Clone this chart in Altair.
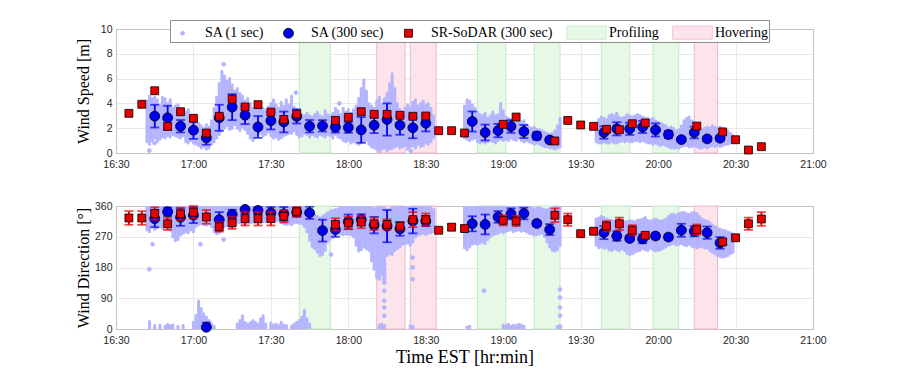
import altair as alt
import pandas as pd

# ---------------- data ----------------
SERIES = ["SA (1 sec)", "SA (300 sec)", "SR-SoDAR (300 sec)", "Profiling", "Hovering"]

# shaded periods
PROF_START = ["17:41", "18:50", "19:12", "19:38", "19:58"]
PROF_END = ["17:53", "19:01", "19:22", "19:49", "20:08"]
HOV_START = ["18:11", "18:24", "20:14"]
HOV_END = ["18:22", "18:34", "20:23"]

# SR-SoDAR 300 s
SODAR_TIMES = ["16:35", "16:40", "16:45", "16:50", "16:55", "17:00", "17:05", "17:10", "17:15", "17:20",
               "17:25", "17:30", "17:35", "17:40", "17:55", "18:00", "18:05", "18:10", "18:15", "18:20",
               "18:25", "18:30", "18:35", "18:40", "18:45", "19:00", "19:05", "19:20", "19:25", "19:30",
               "19:35", "19:40", "19:45", "19:50", "19:55", "20:15", "20:25", "20:30", "20:35", "20:40"]
SODAR_SPEED = [3.2, 3.93, 5.02, 2.15, 3.33, 2.8, 1.61, 2.96, 4.33, 3.71,
               3.9, 3.3, 2.71, 3.14, 2.63, 2.88, 3.33, 3.12, 3.12, 3.04,
               2.96, 2.98, 1.8, 1.8, 1.61, 2.31, 2.9, 0.97, 2.63, 2.26,
               2.15, 1.91, 1.88, 2.36, 2.42, 2.17, 1.7, 1.07, 0.24, 0.51]
SODAR_DIR = [325, 325, 338, 308, 337, 342, 328, 299, 311, 323,
             323, 323, 330, 343, 306, 310, 313, 308, 306, 301,
             320, 320, 289, 298, 294, 318, 316, 333, 320, 279,
             286, 301, 308, 289, 274, 291, 255, 267, 308, 322]
SODAR_DIR_ERR = [20, 20, 18, 18, 18, 18, 20, 14, 18, 20,
                 20, 20, 18, 14, 18, 18, 18, 18, 15, 12,
                 22, 18, 5, 8, 8, 15, 15, 20, 18, 5,
                 8, 15, 18, 15, 8, 15, 8, 5, 18, 20]

# SA 300 s
SA_TIMES = ["16:45", "16:50", "16:55", "17:00", "17:05", "17:10", "17:15", "17:20", "17:25", "17:30",
            "17:35", "17:40", "17:45", "17:50", "17:55", "18:00", "18:05", "18:10", "18:15", "18:20",
            "18:25", "18:30", "18:48", "18:53", "18:58", "19:03", "19:08", "19:13", "19:18", "19:39",
            "19:44", "19:49", "19:54", "19:59", "20:04", "20:09", "20:14", "20:19", "20:24"]
SA_SPEED = [2.97, 2.84, 2.16, 1.84, 1.22, 2.84, 3.7, 3.05, 2.1, 2.6,
            2.5, 2.95, 2.16, 2.19, 2.08, 2.06, 1.86, 2.24, 2.7, 2.24,
            2.03, 2.4, 2.54, 1.65, 1.81, 2.14, 1.73, 1.38, 1.05, 1.65,
            1.95, 1.95, 2.1, 1.86, 1.49, 1.08, 1.65, 1.14, 1.19]
SA_SPEED_ERR = [0.92, 0.97, 0.5, 0.7, 0.55, 1.05, 1.05, 0.72, 0.88, 0.7,
                0.84, 0.57, 0.5, 0.46, 0.43, 0.43, 1.04, 0.63, 1.3, 0.77,
                0.84, 0.66, 0.81, 0.64, 0.54, 0.51, 0.53, 0.3, 0.2, 0.5,
                0.53, 0.49, 0.49, 0.53, 0.3, 0.2, 0.47, 0.2, 0.2]
SA_DIR = [323, 343, 327, 333, 5, 320, 335, 350, 347, 340,
          337, 342, 340, 288, 291, 314, 320, 304, 301, 293,
          316, 316, 308, 306, 328, 337, 338, 309, 291, 282,
          272, 265, 264, 272, 269, 289, 286, 282, 252]
SA_DIR_ERR = [25, 12, 25, 23, 14, 22, 14, 13, 12, 17,
              20, 13, 18, 32, 21, 21, 16, 24, 47, 20,
              36, 15, 22, 29, 17, 16, 17, 8, 16, 19,
              14, 8, 13, 8, 8, 19, 15, 18, 17]

# SA 1 s cloud: per-minute envelope (minutes after 16:30) for three recording segments
SEG_START = [12, 135, 186]
SPD_LOW = [
    [0.9, 0.7, 1.0, 1.2, 0.9, 1.1, 1.3, 1.2, 1.4, 1.3,
     1.5, 1.4, 1.3, 1.2, 1.4, 0.9, 0.8, 1.0, 0.8, 0.7,
     0.6, 0.4, 0.5, 0.3, 0.4, 0.7, 0.9, 1.2, 1.5, 1.8,
     2.0, 2.2, 1.9, 2.0, 2.3, 2.0, 1.8, 2.1, 1.9, 1.6,
     1.2, 1.0, 1.3, 1.5, 1.6, 1.4, 1.5, 1.7, 1.4, 1.2,
     1.3, 1.1, 1.2, 1.4, 1.5, 1.6, 1.6, 1.8, 1.5, 1.3,
     1.4, 1.6, 1.5, 1.3, 1.5, 1.4, 1.3, 1.5, 1.4, 1.3,
     1.5, 1.4, 1.2, 1.5, 1.3, 1.2, 1.0, 0.9, 1.0, 0.8,
     0.9, 0.8, 0.7, 0.8, 0.9, 1.0, 0.7, 0.5, 0.4, 0.3,
     0.1, 0.3, 0.4, 0.2, 0.3, 0.4, 0.5, 0.6, 0.4, 0.5,
     0.6, 0.3, 0.5, 0.6, 0.4, 0.7, 0.5, 0.6, 0.8, 0.7,
     0.9, 1.2],
    [1.2, 1.1, 1.0, 1.1, 1.2, 0.9, 0.8, 0.9, 0.8, 0.9,
     1.0, 0.9, 0.8, 1.0, 1.1, 1.0, 1.1, 1.0, 1.2, 1.1,
     1.0, 1.2, 1.0, 0.9, 1.0, 0.9, 0.8, 0.7, 0.8, 0.7,
     0.6, 0.5, 0.5, 0.4, 0.4, 0.3, 0.4, 0.5],
    [0.9, 0.8, 0.8, 0.9, 0.8, 0.8, 0.9, 0.8, 0.8, 0.9,
     1.0, 0.9, 1.0, 0.9, 0.9, 1.0, 1.0, 0.9, 1.0, 0.9,
     0.8, 0.8, 0.7, 0.8, 0.7, 0.6, 0.7, 0.6, 0.5, 0.4,
     0.4, 0.4, 0.4, 0.5, 0.6, 0.6, 0.5, 0.5, 0.6, 0.5,
     0.4, 0.4, 0.5, 0.4, 0.5, 0.6, 0.5, 0.6, 0.5, 0.6,
     0.7, 0.7, 0.8, 0.9],
]
SPD_HIGH = [
    [4.2, 4.6, 4.4, 4.5, 4.3, 3.9, 4.5, 4.4, 4.0, 4.3,
     3.6, 3.8, 3.9, 3.5, 3.2, 3.3, 3.5, 3.0, 2.8, 2.6,
     2.4, 2.2, 2.0, 2.3, 2.1, 2.6, 3.6, 4.5, 5.6, 6.6,
     6.2, 5.8, 6.0, 5.5, 5.0, 5.2, 4.8, 4.6, 4.2, 4.4,
     4.0, 3.6, 3.8, 3.5, 3.9, 3.6, 3.4, 3.7, 4.0, 4.3,
     3.9, 3.6, 4.1, 3.8, 4.3, 3.9, 4.6, 3.7, 3.5, 3.4,
     3.1, 3.0, 3.2, 3.0, 2.9, 3.1, 3.3, 3.0, 2.9, 3.4,
     3.1, 3.0, 3.2, 3.6, 3.4, 3.1, 3.6, 3.3, 3.5, 3.2,
     3.5, 3.8, 4.4, 5.2, 5.9, 5.0, 4.0, 3.8, 3.6, 4.2,
     4.5, 3.9, 4.4, 4.8, 5.6, 6.4, 5.2, 4.0, 3.5, 3.3,
     3.6, 3.9, 3.7, 4.1, 4.3, 3.8, 4.0, 4.2, 3.9, 4.0,
     3.6, 3.0],
    [3.8, 4.3, 4.2, 3.9, 3.6, 3.3, 3.1, 3.0, 3.2, 2.8,
     3.0, 3.3, 3.0, 3.1, 4.0, 3.4, 2.9, 2.8, 2.7, 2.9,
     2.6, 2.7, 2.5, 2.6, 2.3, 2.1, 2.0, 2.1, 1.9, 1.9,
     1.8, 1.7, 1.6, 1.5, 1.6, 1.8, 2.2, 2.8],
    [2.4, 2.7, 2.9, 2.8, 2.7, 3.0, 3.1, 3.0, 3.2, 2.9,
     2.8, 2.9, 3.1, 3.0, 2.9, 3.0, 3.1, 3.0, 2.9, 2.8,
     2.8, 2.7, 2.8, 2.6, 2.5, 2.4, 2.3, 2.2, 2.0, 2.1,
     2.0, 1.8, 1.9, 2.2, 2.6, 2.8, 2.9, 2.6, 2.5, 2.2,
     2.0, 1.9, 2.0, 2.1, 2.0, 2.2, 2.1, 2.0, 2.1, 2.0,
     1.9, 1.8, 1.6, 1.4],
]
DIR_LOW = [
    [290, 285, 300, 292, 296, 300, 295, 298, 300, 290,
     270, 258, 262, 275, 280, 284, 282, 290, 285, 300,
     305, 308, 306, 304, 308, 300, 285, 278, 282, 296,
     300, 302, 298, 305, 300, 310, 312, 308, 311, 312,
     310, 313, 312, 314, 312, 315, 314, 316, 318, 315,
     316, 318, 312, 308, 306, 309, 305, 310, 312, 310,
     308, 300, 285, 260, 240, 235, 225, 215, 218, 230,
     255, 262, 268, 275, 280, 278, 276, 278, 277, 276,
     270, 245, 228, 232, 240, 235, 230, 200, 175, 150,
     145, 160, 165, 215, 220, 218, 230, 235, 240, 248,
     250, 252, 245, 255, 270, 275, 278, 280, 276, 280,
     282, 285],
    [238, 232, 240, 248, 250, 248, 252, 255, 250, 262,
     270, 275, 278, 280, 285, 282, 286, 288, 290, 285,
     288, 290, 286, 288, 284, 280, 278, 275, 276, 278,
     280, 270, 255, 240, 230, 228, 232, 245],
    [245, 238, 240, 236, 238, 232, 230, 235, 232, 228,
     235, 230, 222, 218, 220, 225, 228, 230, 235, 232,
     230, 236, 232, 228, 230, 232, 236, 240, 245, 248,
     250, 246, 248, 250, 246, 244, 248, 242, 240, 238,
     240, 242, 236, 238, 230, 225, 220, 215, 212, 210,
     212, 215, 220, 225],
]
DIR_HIGH = [
    [360, 358, 360, 360, 360, 358, 360, 360, 360, 360,
     360, 358, 360, 360, 360, 360, 360, 360, 360, 360,
     360, 360, 360, 360, 360, 355, 355, 358, 360, 360,
     360, 360, 360, 360, 360, 360, 360, 360, 360, 360,
     360, 360, 360, 360, 360, 360, 360, 360, 360, 360,
     360, 360, 360, 360, 360, 360, 360, 360, 360, 360,
     358, 355, 352, 350, 345, 335, 330, 325, 330, 335,
     340, 345, 348, 350, 352, 355, 358, 360, 360, 360,
     360, 360, 360, 360, 360, 358, 355, 355, 352, 355,
     358, 355, 355, 350, 352, 358, 360, 360, 358, 360,
     360, 360, 360, 358, 360, 360, 360, 358, 360, 360,
     355, 350],
    [360, 360, 360, 360, 360, 360, 360, 360, 360, 360,
     360, 360, 360, 360, 360, 360, 360, 360, 360, 360,
     360, 360, 360, 358, 356, 355, 354, 352, 355, 356,
     352, 350, 350, 352, 355, 356, 358, 360],
    [322, 325, 330, 326, 322, 320, 318, 316, 318, 320,
     316, 314, 315, 318, 316, 314, 318, 320, 322, 326,
     318, 316, 320, 322, 318, 316, 318, 322, 330, 335,
     336, 334, 338, 340, 342, 338, 336, 340, 342, 338,
     330, 322, 318, 316, 312, 305, 300, 296, 292, 290,
     288, 285, 282, 278],
]
# wrapped-around directions near 0 deg (minute, upper edge)
ZERO_T = [13, 15, 17, 19, 20, 21, 22, 24, 26, 30, 31, 32, 33, 34, 35, 36, 37, 38,
          47, 48, 49, 50, 51, 52, 53, 54, 55, 56, 57, 58, 60, 61, 62, 63, 64, 65, 66,
          68, 69, 70, 71, 72, 73, 74, 75, 102, 103, 104, 114, 115, 136, 137,
          150, 151, 152, 153, 154, 155, 156, 157, 158, 171, 172]
ZERO_HIGH = [22, 10, 12, 8, 14, 10, 12, 8, 10, 20, 40, 82, 60, 45, 35, 25, 15, 8,
             15, 25, 39, 20, 15, 18, 25, 20, 15, 30, 39, 15, 18, 12, 15, 10, 20, 12, 10,
             8, 15, 20, 25, 35, 55, 30, 15, 12, 15, 10, 10, 8, 6, 8,
             12, 10, 14, 8, 12, 10, 14, 12, 8, 8, 10]
# isolated 1 s samples
SPD_OUT_T = [12.9, 14.9, 41.7, 69.7, 86.5, 114.2]
SPD_OUT_V = [0.19, 0.8, 7.16, 4.86, 4.0, 0.14]
DIR_OUT_T = [12.9, 14.2, 32.7, 41.7, 83.3, 142.6,
             103.9, 103.9, 103.9, 103.9, 103.9, 103.9, 103.9, 103.9, 103.9, 103.9,
             114.9, 114.9, 114.9, 172.0, 172.0, 172.0, 172.0, 172.0]
DIR_OUT_V = [175, 248, 248, 262, 218, 112,
             189, 175, 165, 155, 146, 136, 112, 83, 63, 39,
             209, 180, 146, 116, 92, 63, 39, 7]

X_TICKS = list(range(0, 271, 30))
SPD_TICKS = [0, 2, 4, 6, 8, 10]
DIR_TICKS = [0, 90, 180, 270, 360]

# ---------------- helpers ----------------
def tmin(s):
    h, m = s.split(":")
    return int(h) * 60 + int(m) - 990


bands = pd.DataFrame(
    [{"t0": tmin(a), "t1": tmin(b), "series": "Profiling"} for a, b in zip(PROF_START, PROF_END)]
    + [{"t0": tmin(a), "t1": tmin(b), "series": "Hovering"} for a, b in zip(HOV_START, HOV_END)]
)

rows_s, rows_d = [], []
for k, st in enumerate(SEG_START):
    for i in range(len(SPD_LOW[k])):
        rows_s.append({"t": st + i, "lo": SPD_LOW[k][i], "hi": SPD_HIGH[k][i]})
    for i in range(len(DIR_LOW[k])):
        rows_d.append({"t": st + i, "lo": DIR_LOW[k][i], "hi": DIR_HIGH[k][i]})
for t, h in zip(ZERO_T, ZERO_HIGH):
    rows_d.append({"t": t, "lo": 0, "hi": h})
cloud_s = pd.DataFrame(rows_s)
cloud_d = pd.DataFrame(rows_d)

out_s = pd.DataFrame({"t": SPD_OUT_T, "v": SPD_OUT_V, "series": "SA (1 sec)"})
out_d = pd.DataFrame({"t": DIR_OUT_T, "v": DIR_OUT_V, "series": "SA (1 sec)"})

sa = pd.DataFrame({
    "t": [tmin(s) for s in SA_TIMES],
    "spd": SA_SPEED, "spd_lo": [v - e for v, e in zip(SA_SPEED, SA_SPEED_ERR)],
    "spd_hi": [v + e for v, e in zip(SA_SPEED, SA_SPEED_ERR)],
    "dir": SA_DIR, "dir_lo": [v - e for v, e in zip(SA_DIR, SA_DIR_ERR)],
    "dir_hi": [v + e for v, e in zip(SA_DIR, SA_DIR_ERR)],
    "series": "SA (300 sec)",
})
sod = pd.DataFrame({
    "t": [tmin(s) for s in SODAR_TIMES],
    "spd": SODAR_SPEED, "dir": SODAR_DIR,
    "dir_lo": [v - e for v, e in zip(SODAR_DIR, SODAR_DIR_ERR)],
    "dir_hi": [v + e for v, e in zip(SODAR_DIR, SODAR_DIR_ERR)],
    "series": "SR-SoDAR (300 sec)",
})

# ---------------- styling ----------------
CLOUD = "#b4b4ff"
BLUE = "#0000f0"
RED = "#e80000"
PROF_FILL, PROF_EDGE = "#e6f9e6", "#c4e8c4"
HOV_FILL, HOV_EDGE = "#fde4ea", "#f2b6c8"
SERIF = "Liberation Serif"
SANS = "Liberation Sans Narrow, Liberation Sans, Arial, sans-serif"

# one symbol size for every marker (22 px box); the paths carry their own scale
SYM = 484


def circ(r):
    return f"M0,{-r}A{r},{r} 0 1,1 0,{r}A{r},{r} 0 1,1 0,{-r}Z"


DOT = circ(0.18)
CIRC = circ(0.45)
SQ = "M-0.36,-0.36L0.36,-0.36L0.36,0.36L-0.36,0.36Z"
RECT = "M-1.8,-0.6L1.8,-0.6L1.8,0.6L-1.8,0.6Z"

fill_sc = alt.Scale(domain=SERIES, range=[CLOUD, BLUE, RED, PROF_FILL, HOV_FILL])
stroke_sc = alt.Scale(domain=SERIES, range=[CLOUD, "black", "black", PROF_EDGE, HOV_EDGE])
shape_sc = alt.Scale(domain=SERIES, range=[DOT, CIRC, SQ, RECT, RECT])

LEG = alt.Legend(title=None, orient="none", legendX=54, legendY=-9, direction="horizontal",
                 columns=5, fillColor="white", strokeColor="#8c8c8c", padding=1,
                 labelFont=SERIF, labelFontSize=14, labelColor="black", labelOffset=11,
                 columnPadding=12, symbolOpacity=1, symbolStrokeWidth=0.8, symbolSize=SYM)

label_expr = ("floor((990+datum.value)/60) + ':' + "
              "(((990+datum.value)%60) < 10 ? '0' : '') + ((990+datum.value)%60)")

W = 697
XSC = alt.Scale(domain=[0, 270], nice=False, zero=False)
XAX = alt.Axis(values=X_TICKS, labelExpr=label_expr, labelFlush=False, labelOverlap=False)
XAX_T = alt.Axis(values=X_TICKS, labelExpr=label_expr, labelFlush=False, labelOverlap=False,
                 title="Time EST [hr:min]")
YSC_S = alt.Scale(domain=[0, 10], nice=False, zero=False)
YAX_S = alt.Axis(values=SPD_TICKS, title="Wind Speed [m]", titlePadding=9,
                 labelOverlap=False, labelFlush=False)
YSC_D = alt.Scale(domain=[0, 360], nice=False, zero=False)
YAX_D = alt.Axis(values=DIR_TICKS, title="Wind Direction [°]", titlePadding=3,
                 labelOverlap=False, labelFlush=False)


def X(field, axis):
    return alt.X(f"{field}:Q", scale=XSC, axis=axis, title=None if axis is XAX else "Time EST [hr:min]")


def Y(field, top):
    return alt.Y(f"{field}:Q", scale=YSC_S if top else YSC_D, axis=YAX_S if top else YAX_D)


def legend_point(df, ycol):
    return alt.Chart(df).mark_point(filled=True, opacity=1, strokeWidth=0.8, size=SYM).encode(
        x=X("t", XAX), y=Y(ycol, True),
        fill=alt.Fill("series:N", scale=fill_sc, legend=LEG),
        stroke=alt.Stroke("series:N", scale=stroke_sc, legend=LEG),
        shape=alt.Shape("series:N", scale=shape_sc, legend=LEG))


# ---------------- top panel: wind speed ----------------
t_bands = alt.Chart(bands).mark_rect(strokeWidth=1).encode(
    x=X("t0", XAX), x2="t1:Q",
    fill=alt.Fill("series:N", scale=fill_sc, legend=LEG),
    stroke=alt.Stroke("series:N", scale=stroke_sc, legend=LEG),
)
t_cloud = alt.Chart(cloud_s).mark_rule(color=CLOUD, strokeWidth=3, strokeCap="round", clip=True).encode(
    x=X("t", XAX), y=Y("lo", True), y2="hi:Q")
t_out = legend_point(out_s, "v")
t_err = alt.Chart(sa).mark_rule(color=BLUE, strokeWidth=1.8, clip=True).encode(
    x=X("t", XAX), y=Y("spd_lo", True), y2="spd_hi:Q")
t_cap_lo = alt.Chart(sa).mark_tick(color=BLUE, orient="horizontal", size=9, thickness=1.8, clip=True).encode(
    x=X("t", XAX), y=Y("spd_lo", True))
t_cap_hi = alt.Chart(sa).mark_tick(color=BLUE, orient="horizontal", size=9, thickness=1.8, clip=True).encode(
    x=X("t", XAX), y=Y("spd_hi", True))
t_sa = legend_point(sa, "spd")
t_sod = legend_point(sod, "spd")

top = alt.layer(t_bands, t_cloud, t_out, t_err, t_cap_lo, t_cap_hi, t_sa, t_sod).properties(
    width=W, height=124)

# ---------------- bottom panel: wind direction ----------------
b_prof = alt.Chart(bands).transform_filter("datum.series == 'Profiling'").mark_rect(
    fill=PROF_FILL, stroke=PROF_EDGE, strokeWidth=1).encode(x=X("t0", XAX_T), x2="t1:Q")
b_hov = alt.Chart(bands).transform_filter("datum.series == 'Hovering'").mark_rect(
    fill=HOV_FILL, stroke=HOV_EDGE, strokeWidth=1).encode(x=X("t0", XAX_T), x2="t1:Q")
b_cloud = alt.Chart(cloud_d).mark_rule(color=CLOUD, strokeWidth=3, strokeCap="round", clip=True).encode(
    x=X("t", XAX_T), y=Y("lo", False), y2="hi:Q")
b_out = alt.Chart(out_d).mark_point(filled=True, opacity=1, shape=DOT, size=SYM, fill=CLOUD,
                                    stroke=CLOUD, strokeWidth=0.8, clip=True).encode(
    x=X("t", XAX_T), y=Y("v", False))
b_err = alt.Chart(sa).mark_rule(color=BLUE, strokeWidth=1.8, clip=True).encode(
    x=X("t", XAX_T), y=Y("dir_lo", False), y2="dir_hi:Q")
b_cap_lo = alt.Chart(sa).transform_filter("datum.dir_lo >= 0").mark_tick(
    color=BLUE, orient="horizontal", size=9, thickness=1.8).encode(x=X("t", XAX_T), y=Y("dir_lo", False))
b_cap_hi = alt.Chart(sa).mark_tick(color=BLUE, orient="horizontal", size=9, thickness=1.8, clip=True).encode(
    x=X("t", XAX_T), y=Y("dir_hi", False))
b_sa = alt.Chart(sa).mark_point(filled=True, opacity=1, shape=CIRC, size=SYM, fill=BLUE,
                                 stroke="black", strokeWidth=0.8).encode(x=X("t", XAX_T), y=Y("dir", False))
b_serr = alt.Chart(sod).mark_rule(color=RED, strokeWidth=1.8, clip=True).encode(
    x=X("t", XAX_T), y=Y("dir_lo", False), y2="dir_hi:Q")
b_scap_lo = alt.Chart(sod).mark_tick(color=RED, orient="horizontal", size=9, thickness=1.8).encode(
    x=X("t", XAX_T), y=Y("dir_lo", False))
b_scap_hi = alt.Chart(sod).transform_filter("datum.dir_hi <= 360").mark_tick(
    color=RED, orient="horizontal", size=9, thickness=1.8).encode(x=X("t", XAX_T), y=Y("dir_hi", False))
b_sod = alt.Chart(sod).mark_point(filled=True, opacity=1, shape=SQ, size=SYM, fill=RED,
                                  stroke="black", strokeWidth=0.8).encode(x=X("t", XAX_T), y=Y("dir", False))

bottom = alt.layer(b_prof, b_hov, b_cloud, b_out, b_err, b_cap_lo, b_cap_hi, b_sa,
                   b_serr, b_scap_lo, b_scap_hi, b_sod).properties(width=W, height=123)

chart = alt.vconcat(top, bottom, spacing=30).properties(
    padding={"left": 66, "top": 11, "right": 5, "bottom": 5}
).configure_view(
    stroke="#4d4d4d", strokeWidth=1
).configure_axis(
    grid=True, gridColor="#e3e3e3", gridWidth=0.8, domain=False, ticks=False, labelOverlap=False,
    labelFont=SANS, labelFontSize=10.5, labelColor="#262626", labelPadding=4,
    titleFont=SERIF, titleFontSize=16, titleFontWeight="normal", titleColor="black",
).configure_axisX(titleFontSize=18, titlePadding=3, labelPadding=6)

chart.save("out.html", embed_options={"renderer": "svg", "actions": False})
